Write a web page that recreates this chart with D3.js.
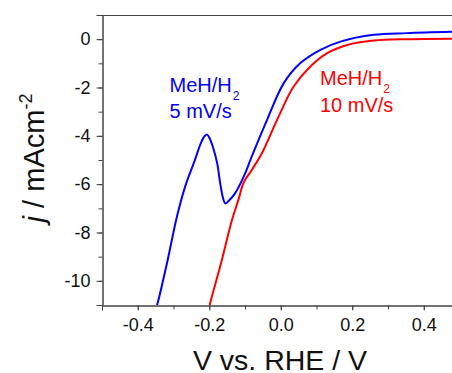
<!DOCTYPE html>
<html><head><meta charset="utf-8">
<script src="https://cdn.jsdelivr.net/npm/d3@7/dist/d3.min.js"></script>
<style>body{margin:0;background:#fff;} svg{display:block;}</style>
</head><body>
<svg id="c" width="452" height="373"></svg>
<script>
// Data
const xTicks = [-0.4, -0.2, 0.0, 0.2, 0.4];
const yTicks = [0, -2, -4, -6, -8, -10];
const blueV = [-0.352, -0.344, -0.318, -0.290, -0.267, -0.243, -0.222, -0.212, -0.206, -0.199, -0.190, -0.178, -0.169, -0.161, -0.155, -0.146, -0.127, -0.099, -0.085, -0.038, 0.0085, 0.055, 0.111, 0.167, 0.260, 0.353, 0.50];
const blueJ = [-11.3, -10.9, -9.25, -7.32, -6.08, -5.12, -4.25, -4.0, -3.95, -4.1, -4.45, -5.12, -6.0, -6.6, -6.8, -6.7, -6.36, -5.53, -5.0, -3.33, -1.82, -0.99, -0.44, -0.10, 0.18, 0.25, 0.31];
const redV = [-0.201, -0.197, -0.169, -0.136, -0.118, -0.104, -0.080, -0.052, -0.010, 0.036, 0.083, 0.130, 0.186, 0.260, 0.353, 0.50];
const redJ = [-11.2, -10.9, -9.38, -7.46, -6.63, -5.94, -5.39, -4.70, -3.33, -1.96, -1.13, -0.58, -0.24, -0.06, 0.0, 0.02];

const svg = d3.select('#c');
const x = d3.scaleLinear().domain([-0.5, 0.5]).range([102, 459.5]);
const y = d3.scaleLinear().domain([-11, 1]).range([305, 15]);
const axisColor = '#444';
const font = '"Liberation Sans", Arial, sans-serif';
const hy = f => (d => f(d).replace('\u2212', '-'));

svg.append('defs').append('clipPath').attr('id','clip')
  .append('rect').attr('x',102).attr('y',15).attr('width',360).attr('height',290);

// frame top
svg.append('line').attr('x1',102).attr('x2',459).attr('y1',15.5).attr('y2',15.5).attr('stroke',axisColor);

// minor ticks
const xMinor = d3.range(-0.5, 0.51, 0.1).map(v => +v.toFixed(2));
const yMinor = d3.range(-11, 1.01, 1);

const gx = svg.append('g').attr('transform','translate(0,305.5)');
gx.call(d3.axisBottom(x).tickValues(xMinor).tickSize(4).tickFormat(''));
gx.append('g').call(d3.axisBottom(x).tickValues(xTicks).tickSize(5).tickPadding(8).tickFormat(hy(d3.format('.1f'))));
gx.selectAll('path.domain').attr('stroke',axisColor);
gx.selectAll('line').attr('stroke',axisColor);
gx.selectAll('text').attr('font-family',font).attr('font-size',18).attr('fill','#111');

const gy = svg.append('g').attr('transform','translate(102.5,0)');
gy.call(d3.axisLeft(y).tickValues(yMinor).tickSize(4).tickFormat(''));
gy.append('g').call(d3.axisLeft(y).tickValues(yTicks).tickSize(6).tickPadding(6).tickFormat(hy(d3.format('d'))));
gy.selectAll('path.domain').attr('stroke',axisColor);
gy.selectAll('line').attr('stroke',axisColor);
gy.selectAll('text').attr('font-family',font).attr('font-size',18).attr('fill','#111');

// curves
const line = d3.line().x(d => x(d[0])).y(d => y(d[1])).curve(d3.curveCatmullRom.alpha(0.5));
const plot = svg.append('g').attr('clip-path','url(#clip)');
plot.append('path').datum(redV.map((v,i)=>[v,redJ[i]])).attr('d',line)
  .attr('fill','none').attr('stroke','#ff0000').attr('stroke-width',2);
plot.append('path').datum(blueV.map((v,i)=>[v,blueJ[i]])).attr('d',line)
  .attr('fill','none').attr('stroke','#0000ff').attr('stroke-width',2);

// labels
function label(tx, ty, color, l1, l2, subdy, gap) {
  const t = svg.append('text').attr('x',tx).attr('y',ty).attr('fill',color)
    .attr('font-family',font).attr('font-size',20);
  t.append('tspan').text(l1);
  t.append('tspan').attr('font-size',12).attr('dx',1).attr('dy',subdy).text('2');
  svg.append('text').attr('x',tx).attr('y',ty+gap).attr('fill',color)
    .attr('font-family',font).attr('font-size',20).text(l2);
}
label(169.5, 91.5, '#0000ff', 'MeH/H', '5 mV/s', 8.5, 26);
label(320, 85, '#ff0000', 'MeH/H', '10 mV/s', 7.5, 27);

// axis titles
svg.append('text').attr('x',280).attr('y',370).attr('text-anchor','middle')
  .attr('font-family',font).attr('font-size',28.5).attr('fill','#111').text('V vs. RHE / V');
const yt = svg.append('text').attr('transform','translate(44,158) rotate(-90)').attr('text-anchor','middle')
  .attr('font-family',font).attr('font-size',29).attr('fill','#111');
yt.append('tspan').attr('font-style','italic').text('j');
yt.append('tspan').text(' / mAcm');
yt.append('tspan').attr('font-size',18).attr('dy',-12).text('-2');
</script>
</body></html>
